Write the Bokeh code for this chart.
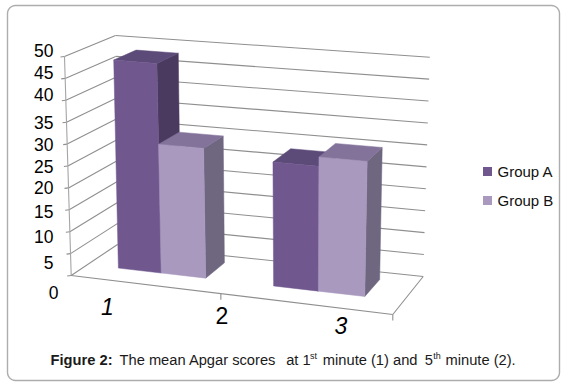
import numpy as np
from bokeh.plotting import figure
from bokeh.models import Range1d
from bokeh.core.properties import value
from bokeh.embed import file_html
from bokeh.resources import INLINE

# data
groups = ["Group A", "Group B"]
group_a = [48.0, 27.9]
group_b = [29.5, 30.0]
y_ticks = [50, 45, 40, 35, 30, 25, 20, 15, 10, 5, 0]
x_tick_labels = ["1", "2", "3"]

# palette: front, side, top
A_COL = ("#70588f", "#4b3a5f", "#5c4a78")
B_COL = ("#a999bf", "#6f6680", "#83739a")
GRID = "#8f8f8f"
FONT = "Liberation Sans"

# screen frame of the pseudo-3D box (corners FL, FR, BR, BL)
FLOOR = [(70.7, 275), (392.3, 314), (422.7, 276), (117, 244)]
CEIL = [(64, 56), (399, 84), (429.3, 56.7), (115, 35)]
YMAX = 50.0


def homography(q):
    s = [(0, 0), (1, 0), (1, 1), (0, 1)]
    a, b = [], []
    for (u, v), (x, y) in zip(s, q):
        a.append([u, v, 1, 0, 0, 0, -u * x, -v * x]); b.append(x)
        a.append([0, 0, 0, u, v, 1, -u * y, -v * y]); b.append(y)
    h = np.linalg.solve(np.array(a, float), np.array(b, float))
    return np.append(h, 1).reshape(3, 3)


H0, H1 = homography(FLOOR), homography(CEIL)


def proj(u, v, w):
    t = w / YMAX
    out = []
    for H in (H0, H1):
        r = H @ np.array([u, v, 1.0])
        out.append(r[:2] / r[2])
    return tuple(out[0] * (1 - t) + out[1] * t)


p = figure(width=565, height=385, output_backend="svg", toolbar_location=None,
           x_range=Range1d(0, 565), y_range=Range1d(385, 0), min_border=0,
           background_fill_color="white", border_fill_color="white")
p.axis.visible = False
p.grid.visible = False
p.outline_line_color = None
p.styles = {"position": "absolute", "left": "0px", "top": "0px"}

# card with rounded corners
L, R, T, B, RAD = 7, 559, 5, 380, 8
cx, cy = [], []
for (ox, oy, a0) in [(R - RAD, T + RAD, -90), (R - RAD, B - RAD, 0), (L + RAD, B - RAD, 90), (L + RAD, T + RAD, 180)]:
    for a in np.radians(np.linspace(a0, a0 + 90, 8)):
        cx.append(ox + RAD * np.cos(a)); cy.append(oy + RAD * np.sin(a))
p.patch(cx, cy, fill_color="white", line_color="#adadad", line_width=1.4)


def seg(a, b, color=GRID, w=1.1):
    p.line([a[0], b[0]], [a[1], b[1]], line_color=color, line_width=w)


# walls
for t in y_ticks:
    if t > 0:
        seg(proj(0, 0, t), proj(0, 1, t))
        seg(proj(0, 1, t), proj(1, 1, t))
    seg(proj(0, 0, t), (proj(0, 0, t)[0] - 4, proj(0, 0, t)[1] + 0.5))
seg(proj(0, 0, 0), proj(0, 0, YMAX), "#a5a5a5")
# floor
seg(proj(0, 0, 0), proj(0, 1, 0))
seg(proj(0, 1, 0), proj(1, 1, 0))
seg(proj(0, 0, 0), proj(1, 0, 0))
seg(proj(1, 0, 0), proj(1, 1, 0))
for u in (0.5, 1.0):
    q = proj(u, 0, 0)
    seg(q, (q[0], q[1] + 6))

# bars
V0, V1 = 0.34, 0.80
CENTERS = (0.258, 0.756)
WIDTHS = (0.148, 0.135)


def bar(u0, u1, val, cols):
    front = [proj(u0, V0, 0), proj(u1, V0, 0), proj(u1, V0, val), proj(u0, V0, val)]
    side = [proj(u1, V0, 0), proj(u1, V1, 0), proj(u1, V1, val), proj(u1, V0, val)]
    top = [proj(u0, V0, val), proj(u1, V0, val), proj(u1, V1, val), proj(u0, V1, val)]
    for poly, c in zip((side, top, front), (cols[1], cols[2], cols[0])):
        p.patch([q[0] for q in poly], [q[1] for q in poly], fill_color=c, line_color=c, line_width=0.5)


for i, (c, wd) in enumerate(zip(CENTERS, WIDTHS)):
    bar(c - wd, c, group_a[i], A_COL)
    bar(c, c + wd, group_b[i], B_COL)

# value labels (hand-placed in the original, drifting from the ticks)
drift = [-6, -5.5, -6, 0, 0, 0.5, 0, 2, 5, 8.7, 16.5]
for t, d in zip(y_ticks, drift):
    yy = proj(0, 0, t)[1] + d
    xx = 58 if t == 0 else 53
    p.text([xx], [yy], text=[str(t)], text_font=value(FONT), text_font_size="17.5px",
           text_align="right", text_baseline="middle", text_color="#000000")

# category labels
for s, xx, yy, st in zip(x_tick_labels, (107, 221.5, 340.5), (306, 314.5, 325), ("italic", "normal", "italic")):
    p.text([xx], [yy], text=[s], text_font=value(FONT), text_font_size="23px",
           text_font_style=st, text_align="center", text_baseline="middle", text_color="#000000")

# legend
for g, c, yy in zip(groups, (A_COL[0], B_COL[0]), (171, 200)):
    p.scatter([487], [yy], marker="square", size=9, fill_color=c, line_color=None)
    p.text([497], [yy], text=[g], text_font=value(FONT), text_font_size="15px",
           text_align="left", text_baseline="middle", text_color="#111111")

# caption
CAP = "14.7px"
pieces = [
    ("Figure 2:", 50, 359, "bold", CAP),
    ("The mean Apgar scores", 119, 359, "normal", CAP),
    ("at 1", 285.7, 359, "normal", CAP),
    ("st", 309.5, 355, "normal", "9px"),
    ("minute (1) and", 322.3, 359, "normal", CAP),
    ("5", 424.3, 359, "normal", CAP),
    ("th", 432.7, 355, "normal", "9px"),
    ("minute (2).", 445, 359, "normal", CAP),
]
for s, xx, yy, st, sz in pieces:
    p.text([xx], [yy], text=[s], text_font=value(FONT), text_font_size=sz, text_font_style=st,
           text_align="left", text_baseline="middle", text_color="#1a1a1a")

open("out.html", "w").write(file_html(p, INLINE))
